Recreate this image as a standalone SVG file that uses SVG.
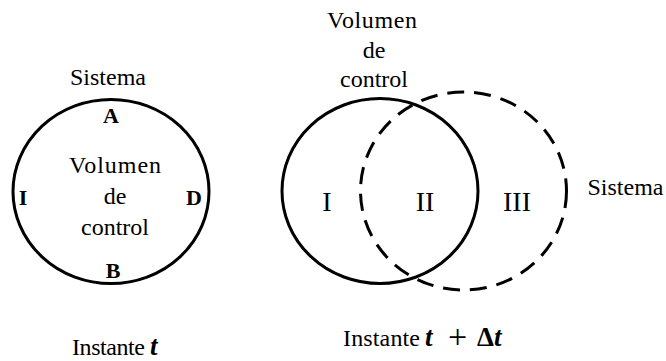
<svg xmlns="http://www.w3.org/2000/svg" width="666" height="361" viewBox="0 0 666 361">
<style>
.t{font-family:"Liberation Serif","Times New Roman",serif;font-size:24px;fill:#000;text-anchor:middle}
.s{font-family:"Liberation Serif","Times New Roman",serif;font-size:24px;fill:#000;text-anchor:start}
.b{font-family:"Liberation Serif","Times New Roman",serif;font-size:22px;font-weight:bold;fill:#000;text-anchor:middle}
.r{font-family:"Liberation Serif","Times New Roman",serif;font-size:28px;fill:#000;text-anchor:middle}
.m{font-weight:bold;font-style:italic;font-size:27px}
.solid{fill:none;stroke:#000;stroke-width:3}
.dash{fill:none;stroke:#000;stroke-width:3;stroke-dasharray:17 10}
</style>
<rect width="666" height="361" fill="#fff"/>
<g id="left-system">
<ellipse class="solid" cx="111" cy="191.5" rx="98" ry="92"/>
<text class="t" x="108" y="85">Sistema</text>
<text class="b" x="111" y="123">A</text>
<text class="b" x="113" y="278">B</text>
<text class="b" x="23" y="205">I</text>
<text class="b" x="194" y="205">D</text>
<text class="t" x="115" y="173" textLength="92">Volumen</text>
<text class="t" x="115" y="204">de</text>
<text class="t" x="115" y="235">control</text>
</g>
<g id="control-volume">
<ellipse class="solid" cx="380" cy="191" rx="98" ry="92.5"/>
<text class="t" x="372" y="28" textLength="90">Volumen</text>
<text class="t" x="374" y="58">de</text>
<text class="t" x="374" y="87">control</text>
</g>
<g id="system-dashed">
<ellipse class="dash" cx="463.5" cy="191" rx="103" ry="99"/>
<text class="t" x="625.5" y="195">Sistema</text>
</g>
<g id="regions">
<text class="r" x="327" y="211">I</text>
<text class="r" x="425" y="211">II</text>
<text class="r" x="517" y="211">III</text>
</g>
<g id="captions">
<text class="s" x="72" y="355" textLength="73">Instante</text>
<text class="s m" x="150" y="355">t</text>
<text class="s" x="343" y="346" textLength="77">Instante</text>
<text class="s m" x="425" y="346">t</text>
<text class="t" x="457.5" y="348" style="font-size:34px">+</text>
<text class="s" x="477" y="346" style="font-size:27px;font-weight:bold">Δ<tspan class="m">t</tspan></text>
</g>
<g id="connectors"></g>
</svg>
